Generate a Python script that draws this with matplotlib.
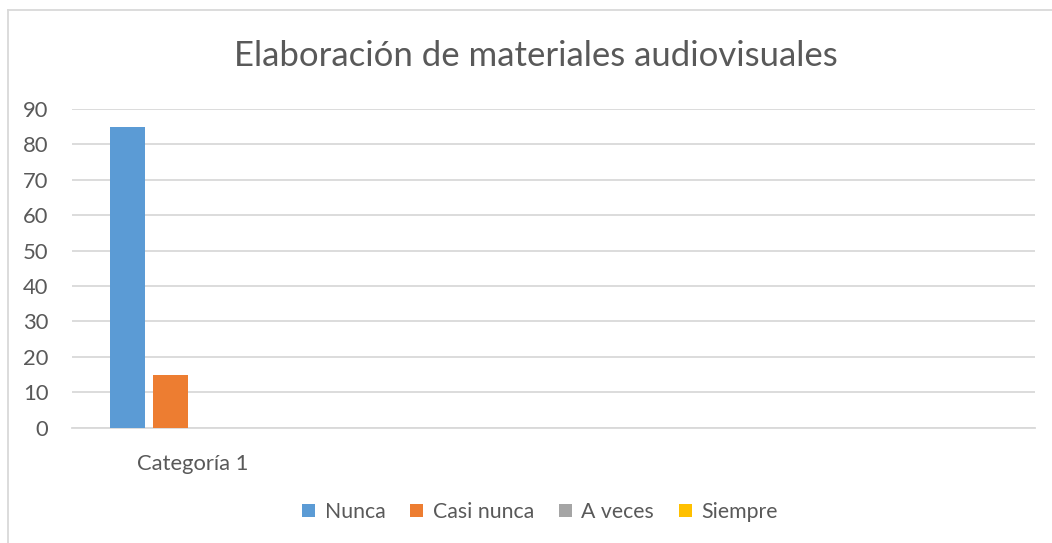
import matplotlib.pyplot as plt
from matplotlib.lines import Line2D
import numpy as np

# datos del gráfico
categorias = ['Categoría 1', '', '', '']
series = ['Nunca', 'Casi nunca', 'A veces', 'Siempre']
valores = [
    [85, 0, 0, 0],
    [15, 0, 0, 0],
    [0, 0, 0, 0],
    [0, 0, 0, 0],
]
colores = ['#5B9BD5', '#ED7D31', '#A5A5A5', '#FFC000']

plt.rcParams['font.family'] = ['Lato', 'DejaVu Sans']

W, H = 1052, 543
fig = plt.figure(figsize=(W / 100, H / 100), dpi=100)
ax = fig.add_axes([72 / W, (H - 427.7) / H, (1035 - 72) / W, (427.7 - 109) / H])

x = np.arange(len(categorias))
ancho = 35 / 240.75
paso = 43 / 240.75
for i, (s, v, c) in enumerate(zip(series, valores, colores)):
    ax.bar(x + (i - 1.5) * paso, v, width=ancho, color=c, label=s, zorder=3)

ax.set_xlim(-0.5, len(categorias) - 0.5)
ax.set_ylim(0, 90)
ax.set_yticks(range(0, 91, 10))
ax.set_xticks(x)
ax.set_xticklabels(categorias)
ax.yaxis.grid(True, color='#D9D9D9', linewidth=1.3, zorder=0)
ax.tick_params(axis='both', length=0, labelsize=15.8, colors='#595959')
ax.tick_params(axis='y', pad=17)
ax.tick_params(axis='x', pad=19)
for lado in ['top', 'right', 'left']:
    ax.spines[lado].set_visible(False)
ax.spines['bottom'].set_color('#D9D9D9')
ax.spines['bottom'].set_linewidth(1.3)

fig.text(535.5 / W, (H - 56) / H, 'Elaboración de materiales audiovisuales',
         ha='center', va='center', fontsize=25, color='#595959')

fig.legend(loc='center', bbox_to_anchor=(540 / W, (H - 512) / H), ncol=4,
           frameon=False, fontsize=15.3, handlelength=0.62, handleheight=0.62,
           handletextpad=0.45, columnspacing=1.15, labelcolor='#595959')

# borde del área del gráfico
fig.add_artist(Line2D([8 / W, 8 / W], [0, (H - 10) / H], color='#D9D9D9', lw=1.3))
fig.add_artist(Line2D([8 / W, 1], [(H - 10) / H, (H - 10) / H], color='#D9D9D9', lw=1.3))

fig.savefig('out.png', dpi=100)
